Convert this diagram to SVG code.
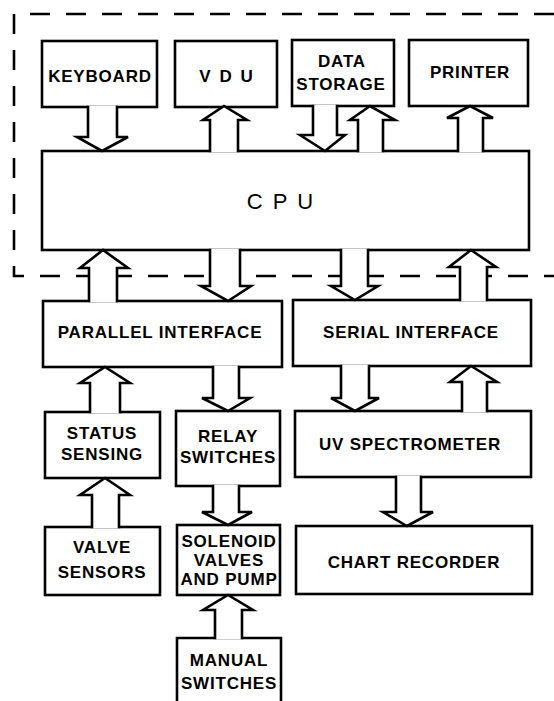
<svg xmlns="http://www.w3.org/2000/svg" width="554" height="701" viewBox="0 0 554 701">
<style>
.bg{fill:#fff}
.box{fill:#fff;stroke:#000;stroke-width:2.6}
.arr{fill:#fff;stroke:#000;stroke-width:2.6;stroke-linejoin:miter}
.dash{fill:none;stroke:#000;stroke-width:2.6;stroke-dasharray:20 16}
.lbl{font-family:"Liberation Sans",Arial,Helvetica,sans-serif;font-weight:bold;font-size:17px;text-anchor:middle;letter-spacing:0.8px;fill:#000}
.cpu{font-family:"Liberation Sans",Arial,Helvetica,sans-serif;font-size:22px;text-anchor:middle;letter-spacing:2px;fill:#000}
</style>
<rect class="bg" x="0" y="0" width="554" height="701"/>
<path id="boundary" class="dash" d="M554,14 H14 V276 H554"/>

<g id="keyboard"><rect class="box" x="42" y="41" width="115" height="66"/><text class="lbl" x="100" y="82">KEYBOARD</text></g>
<g id="vdu"><rect class="box" x="175" y="41" width="102" height="66"/><text class="lbl" x="227" y="82" style="letter-spacing:2px">V D U</text></g>
<g id="datastorage"><rect class="box" x="292" y="40" width="102" height="66"/><text class="lbl" x="342" y="67">DATA</text><text class="lbl" x="341" y="90">STORAGE</text></g>
<g id="printer"><rect class="box" x="409" y="40" width="119" height="66"/><text class="lbl" x="470" y="78">PRINTER</text></g>
<g id="cpu"><rect class="box" x="42" y="151" width="487" height="99"/><text class="cpu" x="281" y="209">C P U</text></g>
<g id="parallel"><rect class="box" x="43" y="301" width="239" height="66"/><text class="lbl" x="160" y="338">PARALLEL INTERFACE</text></g>
<g id="serial"><rect class="box" x="293" y="300" width="238" height="66"/><text class="lbl" x="411" y="338">SERIAL INTERFACE</text></g>
<g id="status"><rect class="box" x="45" y="412" width="115" height="66"/><text class="lbl" x="102" y="439">STATUS</text><text class="lbl" x="102" y="460">SENSING</text></g>
<g id="relay"><rect class="box" x="176" y="411" width="104" height="75"/><text class="lbl" x="228" y="442">RELAY</text><text class="lbl" x="228" y="463">SWITCHES</text></g>
<g id="uv"><rect class="box" x="295" y="411" width="236" height="66"/><text class="lbl" x="410" y="450">UV SPECTROMETER</text></g>
<g id="valve"><rect class="box" x="45" y="527" width="115" height="68"/><text class="lbl" x="102" y="553">VALVE</text><text class="lbl" x="102" y="578">SENSORS</text></g>
<g id="solenoid"><rect class="box" x="177" y="525" width="103" height="70"/><text class="lbl" x="229" y="547">SOLENOID</text><text class="lbl" x="229" y="566">VALVES</text><text class="lbl" x="229" y="585">AND PUMP</text></g>
<g id="chart"><rect class="box" x="296" y="526" width="236" height="68"/><text class="lbl" x="414" y="568">CHART RECORDER</text></g>
<g id="manual"><path class="box" d="M177,706 V638 H281 V706"/><text class="lbl" x="229" y="666">MANUAL</text><text class="lbl" x="229" y="689">SWITCHES</text></g>

<g id="connectors">
<path class="arr" d="M88,105.8 V137 H77 L102,151 L128,137 H117 V105.8"/>
<path class="arr" d="M210,152.2 V120 H203 L224,106 L247,120 H238 V152.2"/>
<path class="arr" d="M313,104.8 V135 H300 L325,151 L345,135 H337 V104.8"/>
<path class="arr" d="M358,152.2 V120 H350 L370,106 L395,120 H383 V152.2"/>
<path class="arr" d="M458,152.2 V118 H447 L470,106 L493,118 H483 V152.2"/>
<path class="arr" d="M89,302.2 V268 H80 L103,250 L128,268 H117 V302.2"/>
<path class="arr" d="M210,248.8 V286 H201 L228,301 L251,286 H240 V248.8"/>
<path class="arr" d="M341,248.8 V286 H331 L355,300 L378,286 H368 V248.8"/>
<path class="arr" d="M460,301.2 V267 H449 L471,250 L496,267 H487 V301.2"/>
<path class="arr" d="M90,413.2 V383 H80 L105,367 L130,383 H120 V413.2"/>
<path class="arr" d="M213,365.8 V398 H202 L228,411 L250,398 H239 V365.8"/>
<path class="arr" d="M341,364.8 V398 H331 L355,411 L379,398 H369 V364.8"/>
<path class="arr" d="M462,412.2 V382 H450 L471,366 L497,382 H487 V412.2"/>
<path class="arr" d="M92,528.2 V495 H80 L105,478 L130,495 H119 V528.2"/>
<path class="arr" d="M213,484.8 V512 H202 L228,525 L252,512 H239 V484.8"/>
<path class="arr" d="M396,475.8 V512 H383 L407,526 L433,512 H421 V475.8"/>
<path class="arr" d="M215,639.2 V610 H203 L228,595 L253,610 H242 V639.2"/>
</g>
</svg>
